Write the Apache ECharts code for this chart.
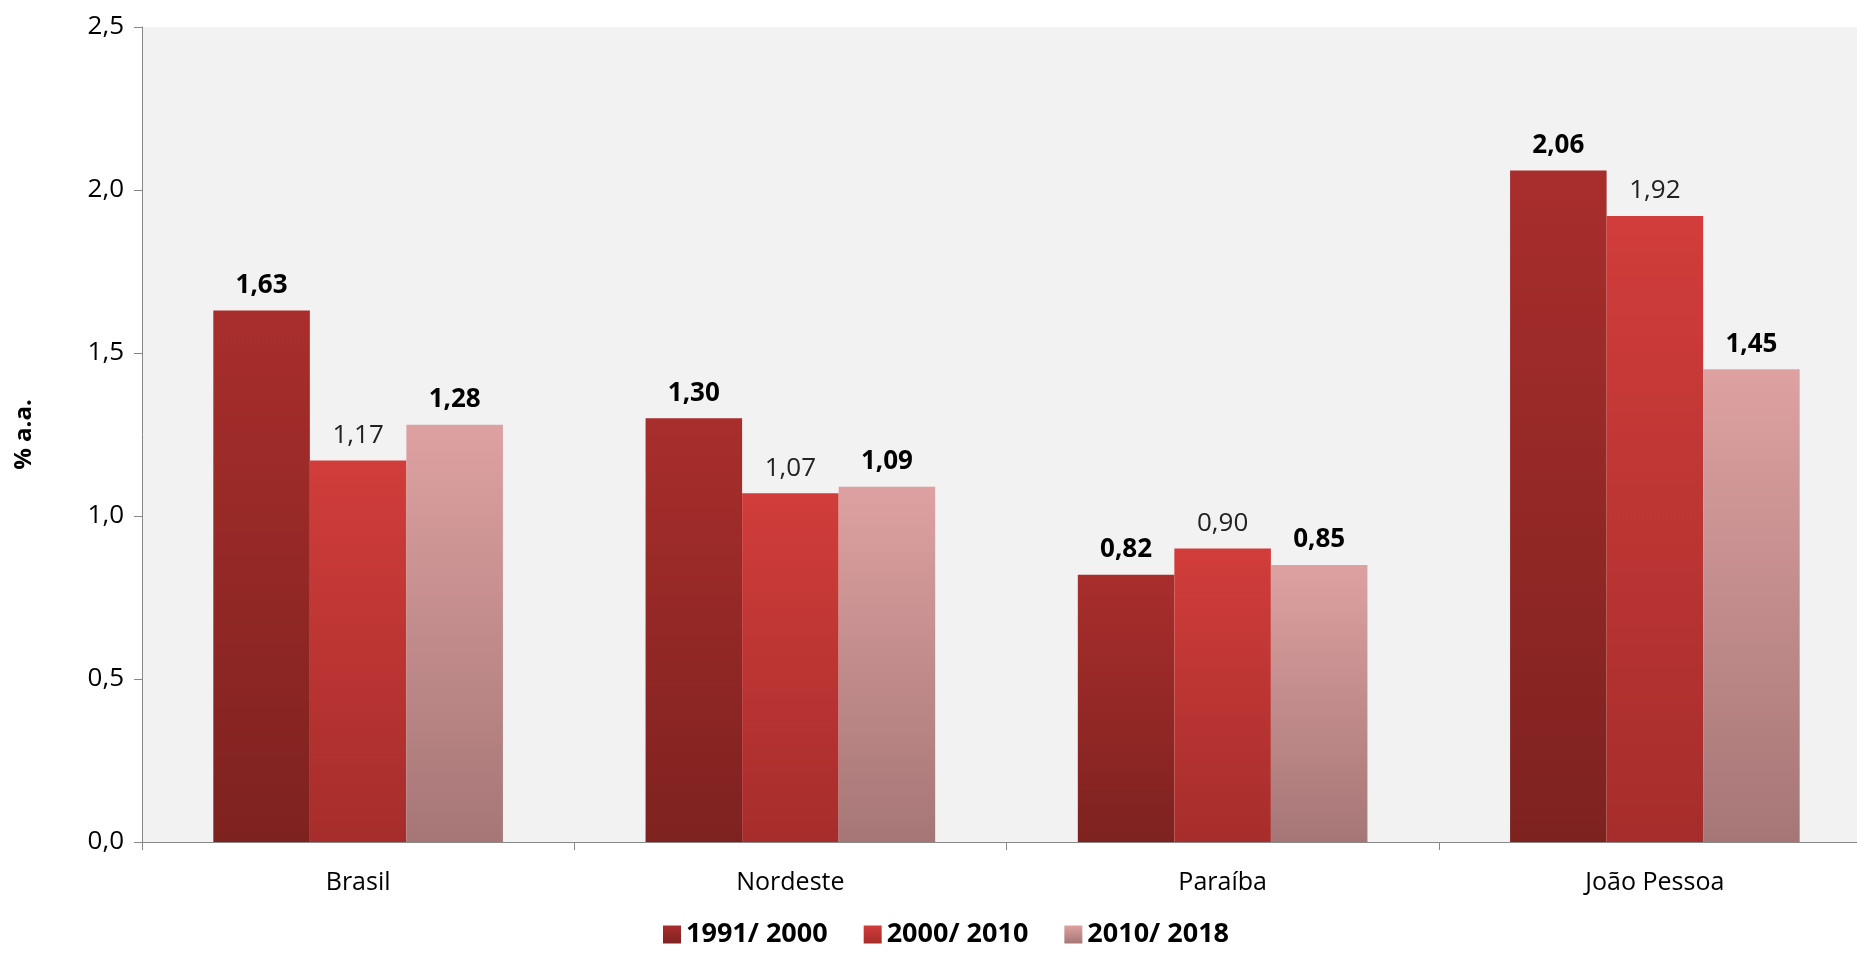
<!DOCTYPE html>
<html><head><meta charset="utf-8">
<script src="https://cdn.jsdelivr.net/npm/echarts@6/dist/echarts.min.js"></script>
<style>html,body{margin:0;padding:0;background:#fff;overflow:hidden;width:1857px;height:955px}#c{width:1871px;height:955px}</style>
</head><body><div id="c"></div>
<script>
const categories=['Brasil','Nordeste','Paraíba','João Pessoa'];
const seriesNames=['1991/ 2000','2000/ 2010','2010/ 2018'];
const s1=[1.63,1.30,0.82,2.06];
const s2=[1.17,1.07,0.90,1.92];
const s3=[1.28,1.09,0.85,1.45];
const F='"Open Sans", Lato, sans-serif';
const grad=(a,b)=>new echarts.graphic.LinearGradient(0,0,0,1,[{offset:0,color:a},{offset:1,color:b}]);
const fmt=p=>p.value.toFixed(2).replace('.',',');
function mk(name,data,c,bold){return {name,type:'bar',data,barGap:'0%',barCategoryGap:'33%',
 itemStyle:{color:grad(c[0],c[1])},
 label:{show:true,position:'top',distance:12,formatter:fmt,fontFamily:F,fontSize:26,color:bold?'#000':'#222',fontWeight:bold?'bold':'normal'}};}
const chart=echarts.init(document.getElementById('c'));
chart.setOption({
 animation:false,
 legend:{bottom:2,left:658,itemWidth:18,itemHeight:18,itemGap:36,icon:'rect',
  textStyle:{fontFamily:F,fontSize:27,fontWeight:'bold',color:'#000'}},
 grid:{left:142,right:0,top:27,bottom:113,show:true,backgroundColor:'#F2F2F2',borderWidth:0},
 xAxis:{type:'category',data:categories,axisLine:{lineStyle:{color:'#888'}},
  axisTick:{show:true,length:8,lineStyle:{color:'#888'}},
  axisLabel:{fontFamily:F,fontSize:25,color:'#000',margin:28}},
 yAxis:{type:'value',min:0,max:2.5,interval:0.5,name:'% a.a.',nameLocation:'middle',nameGap:106,nameRotate:90,
  nameTextStyle:{fontFamily:F,fontSize:24,fontWeight:'bold',color:'#000'},
  axisLine:{show:true,lineStyle:{color:'#888'}},axisTick:{show:true,length:8,lineStyle:{color:'#888'}},
  splitLine:{show:false},
  axisLabel:{fontFamily:F,fontSize:26,color:'#000',margin:18,formatter:v=>v.toFixed(1).replace('.',',')}},
 series:[mk(seriesNames[0],s1,['#A82E2C','#7E2220'],true),
  mk(seriesNames[1],s2,['#D13D3B','#A62D2B'],false),
  mk(seriesNames[2],s3,['#DEA1A1','#A67676'],true)]
});
</script></body></html>
